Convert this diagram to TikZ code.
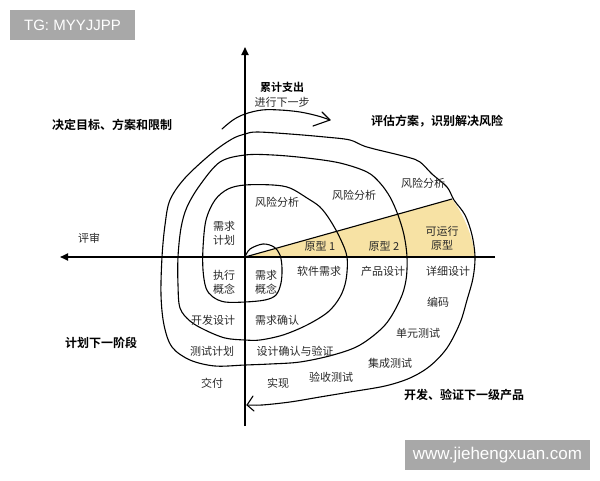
\documentclass[tikz,border=0pt]{standalone}
\usepackage{fontspec}
\setmainfont{Noto Sans CJK SC}[BoldFont={Noto Sans CJK SC Bold}]
\newfontfamily\latinsans{Liberation Sans}
\usetikzlibrary{arrows.meta}
\definecolor{protoyellow}{RGB}{247,226,164}
\definecolor{wmgray}{RGB}{168,168,168}
\definecolor{labgray}{RGB}{40,40,40}
\begin{document}
\begin{tikzpicture}[x=1pt,y=-1pt,
  lab/.style={font=\fontsize{11}{14}\selectfont, text=labgray, align=center, inner sep=0pt},
  boldlab/.style={font=\fontsize{12}{14}\selectfont\bfseries, text=black, inner sep=0pt},
  axisline/.style={line width=1.8pt, -{Triangle[length=8pt,width=7pt]}},
  spiral/.style={line width=1.1pt, line cap=round, line join=round},
  wmbox/.style={fill=wmgray, text=white, inner sep=0pt, font=\latinsans}
]
\useasboundingbox (0,0) rectangle (600,480);

% yellow prototype wedge
\fill[protoyellow] (245,257) -- (452,199)
  .. controls (462,212) and (473,235) .. (475,257) -- cycle;

% axes
\coordinate (O) at (245,257);
\coordinate (ytop) at (245,47);
\coordinate (ybot) at (245,426);
\coordinate (xleft) at (60,257);
\coordinate (xright) at (495,257);
\draw[axisline] (ybot) -- (ytop);
\draw[axisline] (xright) -- (xleft);

% ray of prototypes
\coordinate (rayend) at (452,199);
\draw[spiral] (O) -- (rayend);

% spiral
\draw[spiral] plot[smooth, tension=0.55] coordinates {
 (245,257) (250,249) (263,244) (274,247) (280,255) (282,268) (281,283) (276,295) (265,300) (245,302)
 (225,302) (213,297) (206,288) (203,270) (203,248) (206,220) (215,200) (228,189) (245,185)
 (273,185) (290,188) (307,198) (320,207) (330,220) (340,238) (347,257)
 (346,280) (340,297) (328,312) (307,325) (283,335) (260,340) (245,340)
 (225,338) (205,330) (190,321) (180,308) (178,285) (178,257) (181,228) (187,207) (200,185) (220,162) (245,155)
 (273,155) (307,158) (340,163) (367,172) (380,183) (390,197) (398,215) (404,235) (407,257)
 (406,280) (400,300) (385,325) (360,345) (333,355) (300,362) (270,364) (245,365)
 (215,366) (190,360) (172,347) (164,325) (161,295) (162,257) (165,225) (170,200) (185,178) (212,153) (232,139) (245,134)
 (257,132) (290,134) (325,137) (350,140) (367,147) (407,157) (420,162) (432,174) (447,187) (454,200) (465,215) (472,235) (475,257)
 (473,278) (467,300) (460,323) (447,348) (430,366) (410,378) (385,386) (350,392) (320,397) (290,402) (262,405) (247,405)
};
% bottom arrowhead (hand drawn)
\coordinate (btip) at (247,405);
\draw[spiral] (253,396) -- (btip) -- (254,411);

% top arc arrow
\coordinate (atip) at (330,120);
\draw[spiral] plot[smooth, tension=0.6] coordinates {
 (222,129) (233,120) (245,114) (262,110) (280,110) (300,112) (318,116) (330,120)};
\draw[spiral] (313,126) -- (atip) -- (322,112);

% bold quadrant labels
\node[boldlab] (q1) at (112,125) {决定目标、方案和限制};
\node[boldlab] (q2) at (437,121) {评估方案，识别解决风险};
\node[boldlab] (q3) at (101,343) {计划下一阶段};
\node[boldlab] (q4) at (464,395) {开发、验证下一级产品};
\node[boldlab, font=\fontsize{11}{14}\selectfont\bfseries] (cost) at (282,87) {累计支出};
\node[lab] (next) at (282,102) {进行下一步};
\node[lab] (review) at (89,238) {评审};

% inner labels
\node[lab] (r1) at (277,202) {风险分析};
\node[lab] (r2) at (354,195) {风险分析};
\node[lab] (r3) at (423,183) {风险分析};
\node[lab] (plan) at (224,233) {需求\\计划};
\node[lab] (p1) at (320,246) {原型 1};
\node[lab] (p2) at (384,246) {原型 2};
\node[lab] (p3) at (442,238) {可运行\\原型};
\node[lab] (exe) at (224,282) {执行\\概念};
\node[lab] (req) at (266,282) {需求\\概念};
\node[lab] (sw) at (319,271) {软件需求};
\node[lab] (pd) at (383,271) {产品设计};
\node[lab] (dd) at (448,271) {详细设计};
\node[lab] (code) at (438,302) {编码};
\node[lab] (dev) at (213,320) {开发设计};
\node[lab] (rc) at (277,320) {需求确认};
\node[lab] (ut) at (418,333) {单元测试};
\node[lab] (tp) at (212,351) {测试计划};
\node[lab] (dv) at (295,351) {设计确认与验证};
\node[lab] (it) at (390,363) {集成测试};
\node[lab] (del) at (212,383) {交付};
\node[lab] (impl) at (278,383) {实现};
\node[lab] (at) at (331,377) {验收测试};

% watermark boxes
\node[wmbox, minimum width=125pt, minimum height=30pt, font=\latinsans\fontsize{15}{15}\selectfont] (tg) at (72.5,25) {TG: MYYJJPP};
\node[wmbox, minimum width=185pt, minimum height=30pt, font=\latinsans\fontsize{17}{17}\selectfont] (www) at (497.5,455) {www.jiehengxuan.com};
\end{tikzpicture}
\end{document}
